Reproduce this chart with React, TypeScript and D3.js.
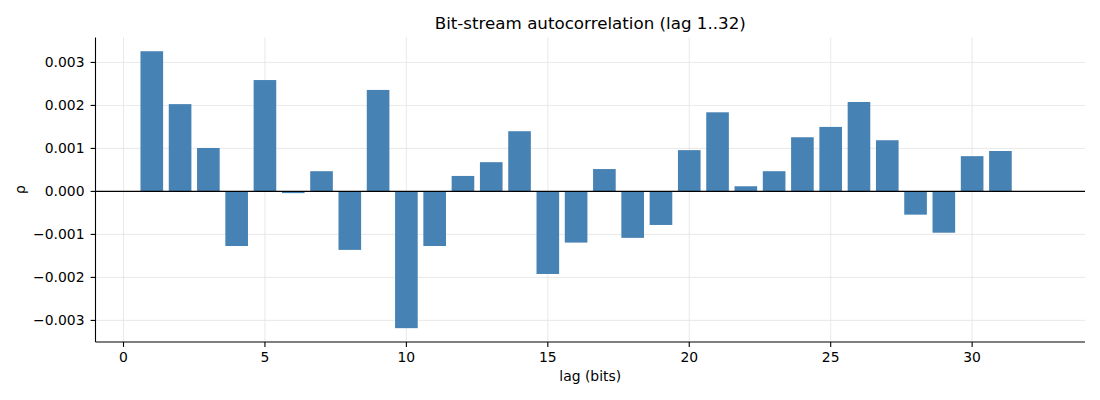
import React from "react";
import * as d3 from "d3";

const lags: number[] = Array.from({ length: 32 }, (_, i) => i + 1);
const rho: number[] = [
  0.00326, 0.00203, 0.00101, -0.00127, 0.00259, -0.00004, 0.00047, -0.00136,
  0.00236, -0.00318, -0.00127, 0.00036, 0.00068, 0.0014, -0.00192, -0.00119,
  0.00052, -0.00108, -0.00078, 0.00096, 0.00184, 0.00012, 0.00047, 0.00126,
  0.0015, 0.00208, 0.00119, -0.00054, -0.00096, 0.00082, 0.00094, 0.0,
];
const xTicks: number[] = [0, 5, 10, 15, 20, 25, 30];
const yTicks: number[] = [-0.003, -0.002, -0.001, 0, 0.001, 0.002, 0.003];

const W = 1100;
const H = 400;
const left = 95.5;
const right = 1085;
const top = 37.4;
const bottom = 342;
const font = "'DejaVu Sans', sans-serif";

export default function App() {
  const barW = 0.8;
  const xmin = lags[0] - barW / 2;
  const xmax = lags[lags.length - 1] + barW / 2;
  const xm = (xmax - xmin) * 0.05;
  const x = d3.scaleLinear().domain([xmin - xm, xmax + xm]).range([left, right]);
  const ymin = Math.min(0, d3.min(rho) as number);
  const ymax = Math.max(0, d3.max(rho) as number);
  const ym = (ymax - ymin) * 0.05;
  const y = d3.scaleLinear().domain([ymin - ym, ymax + ym]).range([bottom, top]);
  const fmt = (v: number) => d3.format(".3f")(v).replace("-", "\u2212");

  return (
    <div style={{ position: "absolute", left: 0, top: 0 }}>
      <svg width={W} height={H} style={{ display: "block", background: "#fff" }}>
        {/* grid */}
        {xTicks.map((t) => (
          <line key={"gx" + t} x1={x(t)} x2={x(t)} y1={top} y2={bottom} stroke="#e3e3e3" strokeWidth={0.8} />
        ))}
        {yTicks.map((t) => (
          <line key={"gy" + t} x1={left} x2={right} y1={y(t)} y2={y(t)} stroke="#e3e3e3" strokeWidth={0.8} />
        ))}
        {/* bars */}
        {lags.map((l, i) => {
          const v = rho[i];
          const y0 = y(Math.max(0, v));
          const y1 = y(Math.min(0, v));
          return (
            <rect
              key={"b" + l}
              x={x(l - barW / 2)}
              width={x(l + barW / 2) - x(l - barW / 2)}
              y={y0}
              height={Math.max(0, y1 - y0)}
              fill="#4682b4"
            />
          );
        })}
        {/* zero line */}
        <line x1={left} x2={right} y1={y(0)} y2={y(0)} stroke="#000" strokeWidth={1.1} />
        {/* spines */}
        <line x1={left} x2={left} y1={top} y2={bottom} stroke="#000" strokeWidth={1.1} />
        <line x1={left} x2={right} y1={bottom} y2={bottom} stroke="#000" strokeWidth={1.1} />
        {/* x ticks */}
        {xTicks.map((t) => (
          <g key={"xt" + t}>
            <line x1={x(t)} x2={x(t)} y1={bottom} y2={bottom + 4.9} stroke="#000" strokeWidth={1.1} />
            <text x={x(t)} y={bottom + 19.5} textAnchor="middle" fontFamily={font} fontSize={13.9} fill="#000">
              {t}
            </text>
          </g>
        ))}
        {/* y ticks */}
        {yTicks.map((t) => (
          <g key={"yt" + t}>
            <line x1={left - 4.9} x2={left} y1={y(t)} y2={y(t)} stroke="#000" strokeWidth={1.1} />
            <text x={left - 11} y={y(t)} dy="0.36em" textAnchor="end" fontFamily={font} fontSize={13.9} fill="#000">
              {fmt(t)}
            </text>
          </g>
        ))}
        {/* labels */}
        <text x={(left + right) / 2} y={381} textAnchor="middle" fontFamily={font} fontSize={13.9} fill="#000">
          lag (bits)
        </text>
        <text
          transform={`translate(25, ${(top + bottom) / 2}) rotate(-90)`}
          textAnchor="middle"
          fontFamily={font}
          fontSize={13.9}
          fill="#000"
        >
          ρ
        </text>
        <text x={(left + right) / 2} y={29} textAnchor="middle" fontFamily={font} fontSize={16.7} fill="#000">
          Bit-stream autocorrelation (lag 1..32)
        </text>
      </svg>
    </div>
  );
}
